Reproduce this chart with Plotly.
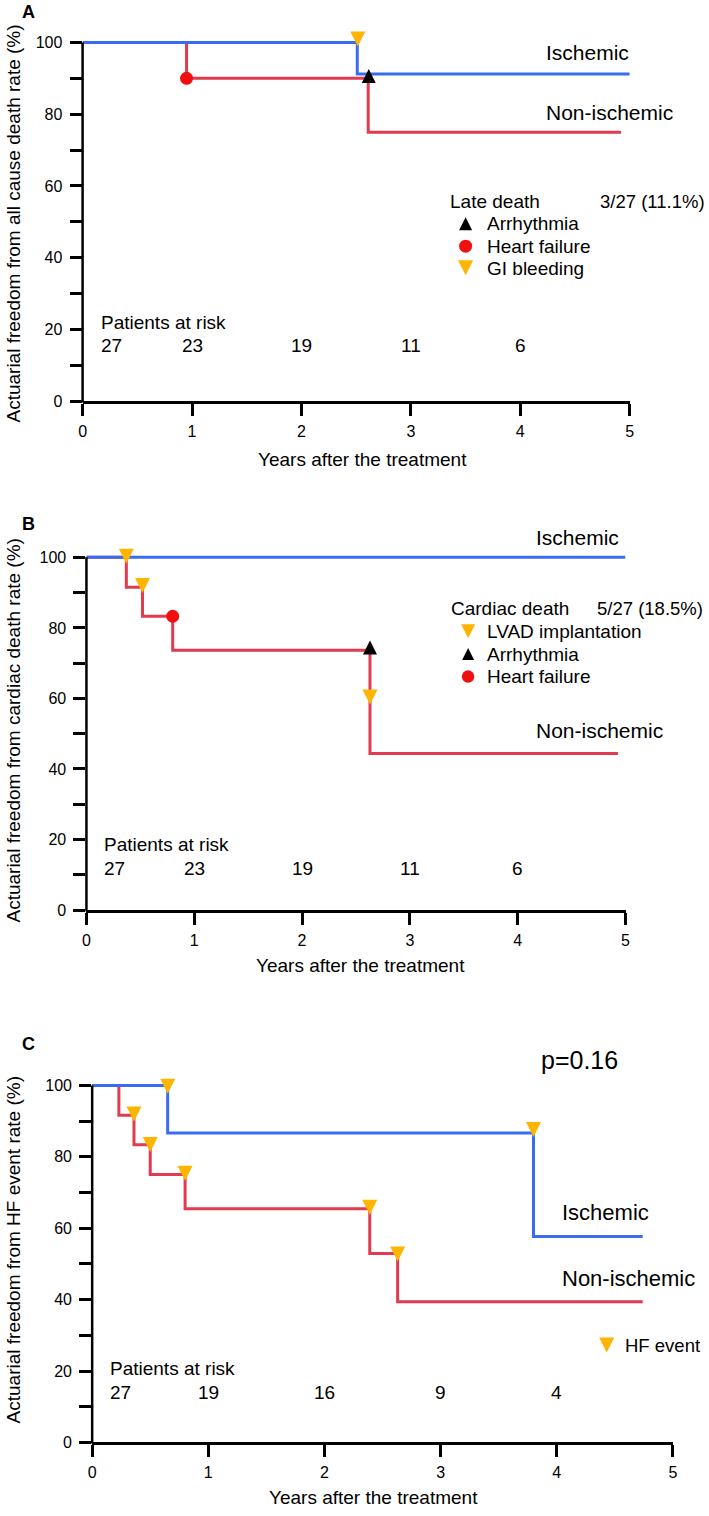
import plotly.graph_objects as go

# ---------------- data ----------------
# Marker y values are the triangle tip positions.
# Panel A: all cause death
A_isch_years = [0, 2.51, 5.0]
A_isch_surv = [100, 91.2, 91.2]
A_non_years = [0, 0.95, 2.61, 4.92]
A_non_surv = [100, 90.0, 75.0, 75.0]
A_gi_x, A_gi_y = [2.515], [98.9]
A_hf_x, A_hf_y = [0.95], [90.0]
A_arr_x, A_arr_y = [2.615], [92.6]
A_risk = [27, 23, 19, 11, 6]
A_legend_labels = ["Arrhythmia", "Heart failure", "GI bleeding"]
A_legend_counts = ["1", "1", "1"]

# Panel B: cardiac death
B_isch_years = [0, 5.0]
B_isch_surv = [100, 100]
B_non_years = [0, 0.37, 0.52, 0.80, 2.63, 4.93]
B_non_surv = [100, 91.5, 83.3, 73.7, 44.4, 44.4]
B_lvad_x, B_lvad_y = [0.37, 0.52, 2.63], [98.2, 89.9, 58.3]
B_hf_x, B_hf_y = [0.80], [83.3]
B_arr_x, B_arr_y = [2.63], [76.4]
B_risk = [27, 23, 19, 11, 6]
B_legend_labels = ["LVAD implantation", "Arrhythmia", "Heart failure"]
B_legend_counts = ["3", "1", "1"]

# Panel C: HF event
C_isch_years = [0, 0.65, 3.80, 4.74]
C_isch_surv = [100, 86.7, 57.7, 57.7]
C_non_years = [0, 0.23, 0.36, 0.50, 0.80, 2.39, 2.63, 4.74]
C_non_surv = [100, 91.7, 83.4, 75.1, 65.5, 52.9, 39.4, 39.4]
C_ev_isch_x, C_ev_isch_y = [0.65, 3.80], [97.7, 85.6]
C_ev_non_x, C_ev_non_y = [0.36, 0.50, 0.80, 2.39, 2.63], [89.9, 81.4, 73.3, 63.8, 50.7]
C_risk = [27, 19, 16, 9, 4]

risk_years = [0, 1, 2, 3, 4]
x_ticks = [0, 1, 2, 3, 4, 5]
y_ticks = [0, 10, 20, 30, 40, 50, 60, 70, 80, 90, 100]
y_ticktext = ["0", "", "20", "", "40", "", "60", "", "80", "", "100"]

# ---------------- style ----------------
W, H = 709, 1516
FONT = "Liberation Sans, Arial, Helvetica, sans-serif"
BLUE = "#3a6cf0"
RED = "#e23a4e"
YELLOW = "#ffb400"
BLACK = "#000000"
RED_DOT = "#f01010"
YTOP = 110  # headroom above 100 for markers/labels
TRI_DOWN = "arrow-down"   # tip at the data point
TRI_UP = "arrow-up"

fig = go.Figure()


def px2paper(x, y):
    return x / W, 1 - y / H


panels = [
    # (suffix, x domain px, y px of 100, y px of 0)
    ("", (79.6, 633.8), 42.7, 403.6),
    ("2", (83.5, 629.5), 560.7, 915.5),
    ("3", (89.3, 677.5), 1092.0, 1451.0),
]

shapes = []
for suf, (x0, x1), yt, yb in panels:
    per = (yb - yt) / 100.0
    ytop_px = yb - YTOP * per
    fig.update_layout(**{
        "xaxis" + suf: dict(
            domain=[x0 / W, x1 / W], range=[0, 5], anchor="y" + suf,
            tickvals=x_ticks, ticktext=[str(v) for v in x_ticks],
            ticks="outside", ticklen=12, tickwidth=2.5, tickcolor="black",
            showline=True, linewidth=2.5, linecolor="black",
            showgrid=False, zeroline=False,
            tickfont=dict(family=FONT, size=16, color="black"),
            ticklabelstandoff=2, fixedrange=True,
        ),
        "yaxis" + suf: dict(
            domain=[1 - yb / H, 1 - ytop_px / H], range=[0, YTOP], anchor="x" + suf,
            tickvals=y_ticks, ticktext=y_ticktext,
            ticks="outside", ticklen=12, tickwidth=2.5, tickcolor="black",
            showline=False,
            showgrid=False, zeroline=False,
            tickfont=dict(family=FONT, size=16, color="black"),
            ticklabelstandoff=4, fixedrange=True,
        ),
    })
    # y axis line only from 0 to 100
    shapes.append(dict(type="line", xref="paper", yref="paper",
                       x0=x0 / W, x1=x0 / W, y0=1 - (yb + 1.2) / H, y1=1 - yt / H,
                       line=dict(color="black", width=2.5)))


def curve(xs, ys, color, ax):
    fig.add_trace(go.Scatter(
        x=xs, y=ys, mode="lines", line=dict(color=color, width=3, shape="hv"),
        xaxis="x" + ax, yaxis="y" + ax, showlegend=False, cliponaxis=False,
        hoverinfo="skip"))


def marks(xs, ys, symbol, color, size, ax):
    fig.add_trace(go.Scatter(
        x=xs, y=ys, mode="markers",
        marker=dict(symbol=symbol, color=color, size=size, line=dict(width=0)),
        xaxis="x" + ax, yaxis="y" + ax, showlegend=False, cliponaxis=False,
        hoverinfo="skip"))


annotations = []


def text(x, y, s, ax, size=19, anchor="left", **kw):
    annotations.append(dict(
        x=x, y=y, xref="x" + ax, yref="y" + ax, text=s, showarrow=False,
        xanchor=anchor, yanchor="middle",
        font=dict(family=FONT, size=size, color="black"), **kw))


def ptext(px, py, s, size=19, angle=0, bold=False):
    x, y = px2paper(px, py)
    annotations.append(dict(
        x=x, y=y, xref="paper", yref="paper", text=("<b>%s</b>" % s) if bold else s,
        showarrow=False, xanchor="center", yanchor="middle", textangle=angle,
        font=dict(family=FONT, size=size, color="black")))


# ---- Panel A ----
curve(A_non_years, A_non_surv, RED, "")
curve(A_isch_years, A_isch_surv, BLUE, "")
marks(A_gi_x, A_gi_y, TRI_DOWN, YELLOW, 15, "")
marks(A_hf_x, A_hf_y, "circle", RED_DOT, 13, "")
marks(A_arr_x, A_arr_y, TRI_UP, BLACK, 14, "")
text(4.22, 97.1, "Ischemic", "", size=21)
text(4.22, 80.5, "Non-ischemic", "", size=21)
text(3.34, 55.8, "Late death", "")
text(4.71, 55.8, "3/27 (11.1%)", "", size=18.5)
A_rows = [49.4, 43.2, 37.0]
marks([3.50], [A_rows[0] + 1.9], TRI_UP, BLACK, 13, "")
marks([3.50], [A_rows[1]], "circle", RED_DOT, 13, "")
marks([3.50], [A_rows[2] - 1.9], TRI_DOWN, YELLOW, 15, "")
for lab, cnt, yy in zip(A_legend_labels, A_legend_counts, A_rows):
    text(3.68, yy, lab, "")
    text(5.45, yy, cnt, "", anchor="center")
text(0.148, 21.8, "Patients at risk", "")
for t, n in zip(risk_years, A_risk):
    if t == 0:
        text(0.148, 15.4, str(n), "")
    else:
        text(t, 15.4, str(n), "", anchor="center")

# ---- Panel B ----
curve(B_non_years, B_non_surv, RED, "2")
curve(B_isch_years, B_isch_surv, BLUE, "2")
marks(B_lvad_x, B_lvad_y, TRI_DOWN, YELLOW, 15, "2")
marks(B_hf_x, B_hf_y, "circle", RED_DOT, 13, "2")
marks(B_arr_x, B_arr_y, TRI_UP, BLACK, 14, "2")
text(4.15, 105.5, "Ischemic", "2", size=21)
text(4.15, 50.9, "Non-ischemic", "2", size=21)
text(3.36, 85.5, "Cardiac death", "2")
text(4.72, 85.5, "5/27 (18.5%)", "2", size=18.5)
B_rows = [79.1, 72.5, 66.2]
marks([3.54], [B_rows[0] - 2.0], TRI_DOWN, YELLOW, 14, "2")
marks([3.54], [B_rows[1] + 1.8], TRI_UP, BLACK, 12, "2")
marks([3.54], [B_rows[2]], "circle", RED_DOT, 12.5, "2")
for lab, cnt, yy in zip(B_legend_labels, B_legend_counts, B_rows):
    text(3.70, yy, lab, "2")
    text(5.48, yy, cnt, "2", anchor="center")
text(0.147, 18.5, "Patients at risk", "2")
for t, n in zip(risk_years, B_risk):
    if t == 0:
        text(0.147, 11.9, str(n), "2")
    else:
        text(t, 11.9, str(n), "2", anchor="center")

# ---- Panel C ----
curve(C_non_years, C_non_surv, RED, "3")
curve(C_isch_years, C_isch_surv, BLUE, "3")
marks(C_ev_isch_x, C_ev_isch_y, TRI_DOWN, YELLOW, 15, "3")
marks(C_ev_non_x, C_ev_non_y, TRI_DOWN, YELLOW, 15, "3")
text(3.85, 107.2, "p=0.16", "3", size=25)
text(4.03, 64.5, "Ischemic", "3", size=22)
text(4.03, 45.8, "Non-ischemic", "3", size=22)
marks([4.43], [25.2], TRI_DOWN, YELLOW, 15, "3")
text(4.57, 27.2, "HF event", "3", size=18.5)
text(0.134, 20.7, "Patients at risk", "3")
for t, n in zip(risk_years, C_risk):
    if t == 0:
        text(0.134, 14.0, str(n), "3")
    else:
        text(t, 14.0, str(n), "3", anchor="center")

# ---- axis titles, panel letters ----
ptext(363, 462, "Years after the treatment")
ptext(361, 971.7, "Years after the treatment")
ptext(374.5, 1506, "Years after the treatment")
ptext(10, 225, "Actuarial freedom from all cause death rate (%)", angle=-90)
ptext(10, 735, "Actuarial freedom from cardiac death rate (%)", angle=-90)
ptext(10, 1257, "Actuarial freedom from HF event rate (%)", angle=-90)
ptext(25, 12, "A", size=18, bold=True)
ptext(25, 527, "B", size=18, bold=True)
ptext(25, 1050, "C", size=18, bold=True)

fig.update_layout(
    width=W, height=H, margin=dict(l=0, r=0, t=0, b=0),
    paper_bgcolor="white", plot_bgcolor="white",
    showlegend=False, annotations=annotations, shapes=shapes,
    font=dict(family=FONT, color="black"),
)

fig.write_html("out.html", config={"displayModeBar": False},
               post_script="document.body.style.margin='0px';document.body.style.overflow='hidden';")
